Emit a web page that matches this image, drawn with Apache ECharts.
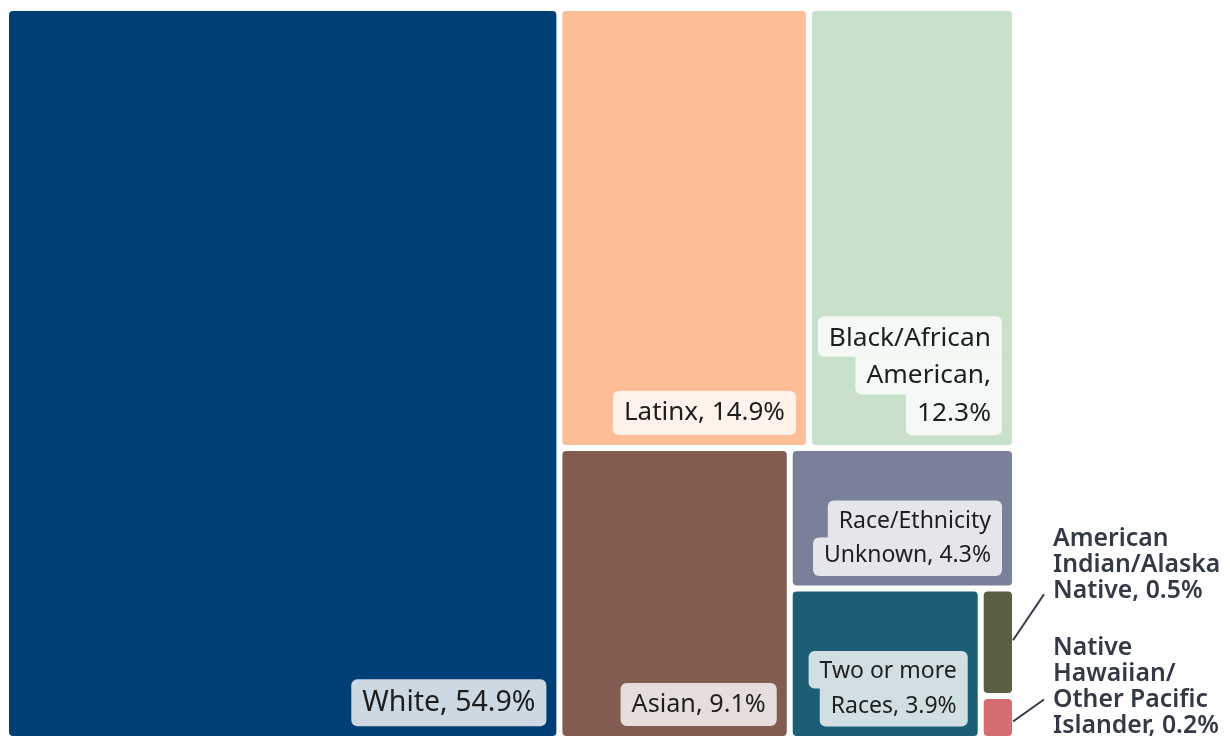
<!DOCTYPE html>
<html><head><meta charset="utf-8">
<script src="https://cdn.jsdelivr.net/npm/echarts@6/dist/echarts.min.js"></script>
<style>html,body{margin:0;padding:0;background:#fff}#c{width:1228px;height:736px}</style>
</head><body><div id="c"></div>
<script>
// ---- data ----
const categories = ['White', 'Latinx', 'Black/African American', 'Asian', 'Race/Ethnicity Unknown',
  'Two or more Races', 'American Indian/Alaska Native', 'Native Hawaiian/Other Pacific Islander'];
const values = [54.9, 14.9, 12.3, 9.1, 4.3, 3.9, 0.5, 0.2];
const labelLines = [
  ['White, 54.9%'],
  ['Latinx, 14.9%'],
  ['Black/African', 'American,', '12.3%'],
  ['Asian, 9.1%'],
  ['Race/Ethnicity', 'Unknown, 4.3%'],
  ['Two or more', 'Races, 3.9%'],
  ['American', 'Indian/Alaska', 'Native, 0.5%'],
  ['Native', 'Hawaiian/', 'Other Pacific', 'Islander, 0.2%']
];
const outsideLabels = ['American Indian/Alaska Native', 'Native Hawaiian/Other Pacific Islander'];

// ---- styles ----
const palette = ['#003f75', '#fdbe97', '#c9e1cb', '#825c51', '#7a8099', '#1b5e75', '#5a5e43', '#d46d72'];
const labelFontSizes = [28.5, 26, 26.3, 25.2, 23, 23, 24.8, 24.8];
const FONT = '"Noto Sans", sans-serif';
const labelBgAlpha = 0.8;
const outColor = '#333a46';
const inset = 10;
// leader-line / text offsets for outside labels, relative to tile right edge & vertical middle
const outsideOffsets = [
  { line: [1, -2, 32, -48], text: [41, -116] },
  { line: [1, 4, 32, -18], text: [41, -83] }
];

function mixWhite(hex, a) {
  const n = parseInt(hex.slice(1), 16);
  const c = [(n >> 16) & 255, (n >> 8) & 255, n & 255].map(v => Math.round(v + (255 - v) * a));
  return 'rgb(' + c.join(',') + ')';
}

const measureCtx = document.createElement('canvas').getContext('2d');
function textW(t, size) { measureCtx.font = size + 'px ' + FONT; return measureCtx.measureText(t).width; }

function buildLabel(lines, size, bg) {
  const padX = 11, padOuter = 9, padInner = 5.5, r = 6;
  const rich = {};
  const n = lines.length;
  const widths = lines.map(t => textW(t, size));
  const parts = lines.map((t, i) => {
    const top = i === 0 ? padOuter : padInner + 1;
    const bot = i === n - 1 ? padOuter : padInner;
    const tl = (i === 0 || widths[i] > widths[i - 1] + 1) ? r : 0;
    const tr = i === 0 ? r : 0;
    const br = i === n - 1 ? r : 0;
    const bl = (i === n - 1 || widths[i] > widths[i + 1] + 1) ? r : 0;
    rich['t' + i] = {
      fontSize: size, fontFamily: FONT, fill: '#1e1e1e',
      backgroundColor: bg,
      padding: [top, padX, bot, padX],
      lineHeight: size + top + bot - (i === 0 ? 0 : 1),
      borderRadius: [tl, tr, br, bl],
      align: 'right'
    };
    return '{t' + i + '|' + t + '}';
  });
  return { text: parts.join('\n'), rich };
}

const data = categories.map((name, i) => ({
  name,
  value: values[i],
  itemStyle: { color: palette[i] }
}));

const chart = echarts.init(document.getElementById('c'), null, { renderer: 'canvas' });
const L = 9, T = 11;
chart.setOption({
  animation: false,
  backgroundColor: '#fff',
  series: [{
    type: 'treemap',
    left: L, top: T, width: 1003, height: 725,
    roam: false,
    nodeClick: false,
    breadcrumb: { show: false },
    squareRatio: 1.15,
    sort: 'desc',
    itemStyle: { borderRadius: 4, borderWidth: 0, gapWidth: 6, borderColor: '#fff' },
    levels: [{ itemStyle: { gapWidth: 6, borderWidth: 0, borderColor: '#fff' } }],
    emphasis: { disabled: true },
    label: { show: false },
    upperLabel: { show: false },
    data
  }]
});

// labels placed from the library's computed tile layout
const sm = chart.getModel().getSeriesByIndex(0);
const root = sm.getViewRoot();
const rl = root.getLayout();
const graphics = [];
root.children.forEach(node => {
  const idx = categories.indexOf(node.name);
  const l = node.getLayout();
  const X = L + rl.x + l.x, Y = T + rl.y + l.y;
  const R = X + l.width, B = Y + l.height, M = Y + l.height / 2;
  const k = outsideLabels.indexOf(node.name);
  if (k < 0) {
    const lab = buildLabel(labelLines[idx], labelFontSizes[idx], mixWhite(palette[idx], labelBgAlpha));
    graphics.push({
      type: 'text', silent: true, z: 100,
      x: R - inset, y: B - inset,
      style: {
        text: lab.text, rich: lab.rich,
        align: 'right', verticalAlign: 'bottom'
      }
    });
    return;
  }
  const o = outsideOffsets[k];
  graphics.push({
    type: 'line', silent: true,
    shape: { x1: R + o.line[0], y1: M + o.line[1], x2: R + o.line[2], y2: M + o.line[3] },
    style: { stroke: outColor, lineWidth: 2 }
  });
  graphics.push({
    type: 'text', silent: true,
    x: R + o.text[0], y: M + o.text[1],
    style: {
      text: labelLines[idx].join('\n'),
      fill: outColor,
      fontSize: labelFontSizes[idx], fontFamily: FONT, fontWeight: 600,
      lineHeight: 26,
      verticalAlign: 'top', align: 'left'
    }
  });
});
chart.setOption({ graphic: graphics });
</script>
</body></html>
